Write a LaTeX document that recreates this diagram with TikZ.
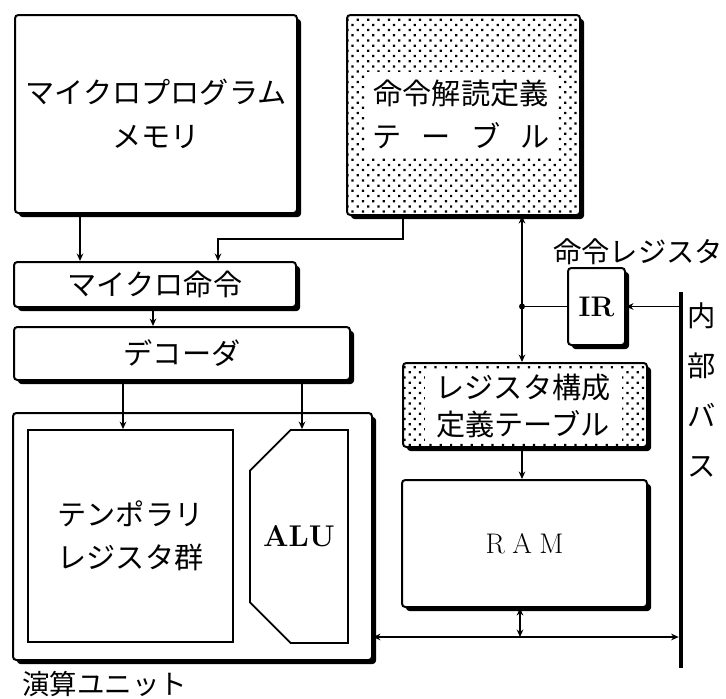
\documentclass[tikz,border=0pt]{standalone}
\usepackage{fontspec}
\newfontfamily\jp{Noto Sans CJK JP}
\usetikzlibrary{arrows.meta,shadows,patterns.meta,shapes.misc}

\begin{document}
\begin{tikzpicture}[x=0.6pt,y=-0.6pt,
  jfont/.style={font=\jp\fontsize{17.5}{26}\selectfont},
  box/.style={draw,line width=1.2pt,fill=white,rounded corners=2pt,inner sep=0pt,align=center,jfont,
    drop shadow={shadow xshift=2.4pt,shadow yshift=-2.4pt,fill=black,opacity=1}},
  dotbox/.style={box,postaction={pattern={Dots[angle=45,distance=4.4pt,radius=0.95pt]}}},
  hole/.style={fill=white,inner sep=0pt,align=center,jfont},
  inbox/.style={draw,line width=1.1pt,fill=white,inner sep=0pt,align=center},
  arr/.style={-{Stealth[length=4.5pt,width=4pt]},line width=0.9pt},
  both/.style={{Stealth[length=4.5pt,width=4pt]}-{Stealth[length=4.5pt,width=4pt]},line width=0.9pt}]
  \useasboundingbox[fill=white] (0,0) rectangle (726,699);
  \node[box,minimum width=169.2pt,minimum height=118.8pt] (mem) at (156,114) {マイクロプログラム\\メモリ};
  \node[dotbox,minimum width=139.8pt,minimum height=120pt] (tbl) at (463.5,115) {};
  \node[hole,minimum width=115.2pt,minimum height=51pt] (tbltx) at (461,114.5) {命令解読定義\\\makebox[106.8pt]{テ\hfill ー\hfill ブ\hfill ル}};
  \node[box,minimum width=169.2pt,minimum height=27pt] (mi) at (155,284.5) {マイクロ命令};
  \node[box,minimum width=201.6pt,minimum height=31.8pt] (dc) at (182,353.5) {デコーダ};
  \node[box,minimum width=215.4pt,minimum height=148.2pt] (unit) at (192.5,536.5) {};
  \node[inbox,jfont,minimum width=123pt,minimum height=127.2pt] (tmp) at (130.5,536) {テンポラリ\\レジスタ群};
  \node[inbox,chamfered rectangle,chamfered rectangle corners={north west,south west},
    chamfered rectangle xsep=19.8pt,chamfered rectangle ysep=18pt,
    minimum width=58.8pt,minimum height=127.8pt,font=\bfseries\fontsize{18}{20}\selectfont] (alu) at (299,536.5) {ALU};
  \node[dotbox,minimum width=146.4pt,minimum height=50.4pt] (cfg) at (525,405) {};
  \node[hole,minimum width=118.2pt,minimum height=43.2pt,font=\jp\fontsize{17.5}{22}\selectfont] (cfgtx) at (523,406) {レジスタ構成\\定義テーブル};
  \node[box,minimum width=147pt,minimum height=76.2pt,font=\fontsize{17}{20}\selectfont] (ram) at (524.5,543.5) {R\kern4.5pt A\kern4.5pt M};
  \node[box,minimum width=34.2pt,minimum height=46.2pt,font=\bfseries\fontsize{17}{20}\selectfont] (ir) at (596.5,306.5) {IR};
  \node[font=\jp\fontsize{17}{20}\selectfont,inner sep=0pt] (irl) at (638,252) {命令レジスタ};
  \node[fill,minimum width=2.4pt,minimum height=225.6pt,inner sep=0pt] (bus) at (681,480) {};
  \node[align=center,font=\jp\fontsize{17}{30}\selectfont,inner sep=0pt] (busl) at (702,390) {内\\部\\バ\\ス};
  \node[font=\jp\fontsize{16.5}{20}\selectfont,anchor=west,inner sep=0pt] (unitl) at (22,684) {演算ユニット};
  \coordinate (j) at (522,306.5);
  \coordinate (k) at (520,637);
  \draw[arr] (mem.south -| 80,0) -- (mi.north -| 80,0);
  \draw[arr] (tbl.south -| 403,0) -- ++(0,23) -| (mi.north -| 218,0);
  \draw[arr] (mi.south -| 153,0) -- (dc.north -| 153,0);
  \draw[arr] (dc.south -| 123,0) -- (tmp.north -| 123,0);
  \draw[arr] (dc.south -| 302,0) -- (alu.north -| 302,0);
  \draw[both] (tbl.south -| j) -- (cfg.north -| j);
  \fill (j) circle (1.8pt);
  \draw[line width=0.9pt] (j) -- (ir.west);
  \draw[arr] (bus.west |- ir) -- (ir.east);
  \draw[arr] (cfg.south -| j) -- (ram.north -| j);
  \draw[both] (ram.south -| k) -- (k);
  \draw[both] (unit.east |- k) -- (bus.west |- k);
\end{tikzpicture}
\end{document}
